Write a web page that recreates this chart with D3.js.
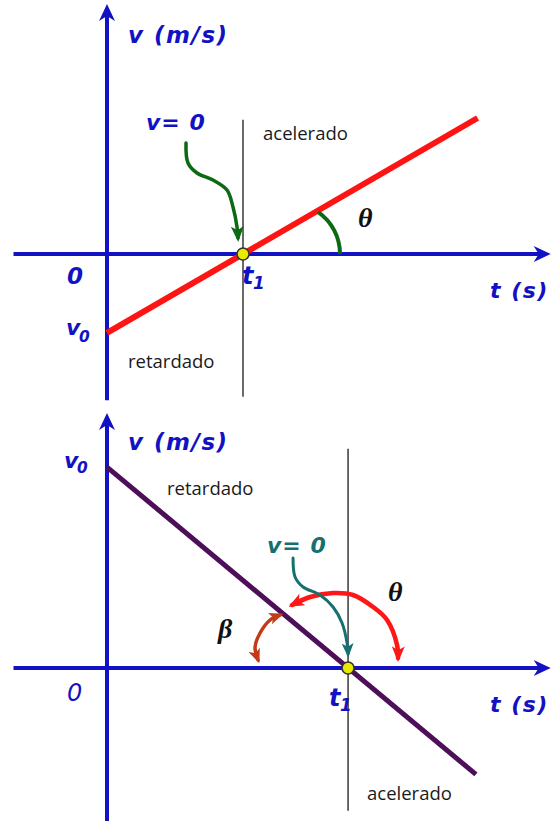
<!DOCTYPE html>
<html>
<head>
<meta charset="utf-8">
<script src="https://cdn.jsdelivr.net/npm/d3@7"></script>
<style>
  body { margin: 0; background: #fff; }
  svg { display: block; }
</style>
</head>
<body>
<div id="chart"></div>
<script>
// axis extents, in chart units (t in s, v in m/s, arbitrary scale)
const tExtent = [-2.75, 13.05];
const vExtentTop = [-4.3, 7.35];
const vExtentBottom = [-4.55, 7.5];

// top panel: v starts negative and rises through zero at t1
const topT = [0, 10.9];
const topV = [-2.32, 4.0];
const topT1 = 4.0;
const topGuideV = [-4.2, 3.95];

// bottom panel: v starts positive and falls through zero at t1
const bottomT = [0, 10.85];
const bottomV = [5.91, -3.13];
const bottomT1 = 7.09;
const bottomGuideV = [-4.2, 6.45];

const width = 556, height = 821;
const blue = '#1212c4';

const svg = d3.select('#chart').append('svg')
    .attr('width', width)
    .attr('height', height);

const defs = svg.append('defs');
function arrowMarker(id, color, size) {
    defs.append('marker')
        .attr('id', id)
        .attr('viewBox', '0 0 12 10')
        .attr('refX', 9)
        .attr('refY', 5)
        .attr('markerWidth', size * 1.2)
        .attr('markerHeight', size)
        .attr('markerUnits', 'userSpaceOnUse')
        .attr('orient', 'auto-start-reverse')
        .append('path')
        .attr('d', 'M0,0 L12,5 L0,10 L3,5 Z')
        .attr('fill', color);
}
arrowMarker('arr-green', '#0b6a12', 13);
arrowMarker('arr-teal', '#157070', 12);
arrowMarker('arr-red', '#ff1616', 13);
arrowMarker('arr-brown', '#c23a16', 12);

const x = d3.scaleLinear().domain([0, 1]).range([107, 141]);

function drawPanel(y, vExtent, lineT, lineV, t1, guideV, lineColor, lineWidth) {
    const g = svg.append('g');
    const ox = x(0), oy = y(0);

    // axes
    g.append('line')
        .attr('x1', x(tExtent[0])).attr('x2', x(tExtent[1]) - 8)
        .attr('y1', oy).attr('y2', oy)
        .attr('stroke', blue).attr('stroke-width', 4);
    g.append('line')
        .attr('x1', ox).attr('x2', ox)
        .attr('y1', y(vExtent[0])).attr('y2', y(vExtent[1]) + 8)
        .attr('stroke', blue).attr('stroke-width', 4);

    // arrow heads on the axes
    const tx = x(tExtent[1]), ty = y(vExtent[1]);
    g.append('path')
        .attr('d', `M${tx},${oy} L${tx - 17},${oy - 8} L${tx - 12},${oy} L${tx - 17},${oy + 8} Z`)
        .attr('fill', blue);
    g.append('path')
        .attr('d', `M${ox},${ty} L${ox - 8},${ty + 17} L${ox},${ty + 12} L${ox + 8},${ty + 17} Z`)
        .attr('fill', blue);

    // thin guide at t1
    g.append('line')
        .attr('x1', x(t1)).attr('x2', x(t1))
        .attr('y1', y(guideV[0])).attr('y2', y(guideV[1]))
        .attr('stroke', '#1a1a1a').attr('stroke-width', 1.3);

    // the velocity line
    const pts = lineT.map((t, i) => [t, lineV[i]]);
    g.append('path')
        .datum(pts)
        .attr('d', d3.line().x(d => x(d[0])).y(d => y(d[1])))
        .attr('fill', 'none')
        .attr('stroke', lineColor)
        .attr('stroke-width', lineWidth);

    return { g, ox, oy, cx: x(t1), cy: oy };
}

function dot(p) {
    p.g.append('circle')
        .attr('cx', p.cx).attr('cy', p.cy).attr('r', 6)
        .attr('fill', '#eaea00')
        .attr('stroke', '#333').attr('stroke-width', 1.6);
}

function curve(p, offsets, color, w, startMarker, endMarker) {
    const path = p.g.append('path')
        .datum(offsets)
        .attr('d', d3.line().curve(d3.curveCatmullRom).x(d => p.cx + d[0]).y(d => p.cy + d[1]))
        .attr('fill', 'none')
        .attr('stroke', color)
        .attr('stroke-width', w)
        .attr('stroke-linecap', 'round');
    if (startMarker) path.attr('marker-start', `url(#${startMarker})`);
    if (endMarker) path.attr('marker-end', `url(#${endMarker})`);
}

function label(p, dx, dy, txt, opts = {}) {
    const t = p.g.append('text')
        .attr('x', p.ox + dx)
        .attr('y', p.oy + dy)
        .attr('fill', opts.color || blue)
        .attr('font-family', opts.family || '"DejaVu Sans", sans-serif')
        .attr('font-size', opts.size || 22)
        .attr('font-weight', opts.weight || 'bold')
        .attr('font-style', opts.style || 'italic');
    if (opts.spacing) t.attr('letter-spacing', opts.spacing);
    t.text(txt);
    return t;
}

function subLabel(p, dx, dy, main, sub, size, subDx, subDy) {
    label(p, dx, dy, main, { size });
    label(p, dx + subDx, dy + subDy, sub, { size: size * 0.7 });
}

const plain = { color: '#1a1a1a', family: '"Open Sans", sans-serif', size: 18.5, weight: 'normal', style: 'normal' };
const greek = { color: '#111', family: '"Liberation Serif", serif', size: 28, weight: 'bold', style: 'italic' };

// ---- top panel ----
const yTop = d3.scaleLinear().domain([0, 1]).range([254, 220]);
const topPanel = drawPanel(yTop, vExtentTop, topT, topV, topT1, topGuideV, '#ff1414', 6);

// theta arc between red line and t axis
topPanel.g.append('path')
    .attr('d', d3.arc()({ innerRadius: 51, outerRadius: 51, startAngle: 0.61, endAngle: Math.PI / 2 }))
    .attr('transform', `translate(${topPanel.cx + 46},${topPanel.cy})`)
    .attr('fill', 'none')
    .attr('stroke', '#0b6a12')
    .attr('stroke-width', 4);

curve(topPanel, [[-57, -111], [-55, -91], [-46, -81], [-30, -74], [-16, -64], [-10, -47], [-6, -27], [-5, -16]],
    '#0b6a12', 3.5, null, 'arr-green');
dot(topPanel);

label(topPanel, 21, -211, 'v (m/s)', { size: 23, spacing: 1.5 });
label(topPanel, 39, -124, 'v= 0', { size: 22, spacing: 1 });
label(topPanel, 156, -114, 'acelerado', plain);
label(topPanel, 251, -27, 'θ', greek);
label(topPanel, -40, 30, '0', { size: 23 });
subLabel(topPanel, -41, 81, 'v', '0', 22, 13, 7);
subLabel(topPanel, 135, 30, 't', '1', 24, 11, 5);
label(topPanel, 383, 44, 't (s)', { size: 22, spacing: 1.5 });
label(topPanel, 21, 114, 'retardado', plain);

// ---- bottom panel ----
const yBottom = d3.scaleLinear().domain([0, 1]).range([668, 634]);
const bottomPanel = drawPanel(yBottom, vExtentBottom, bottomT, bottomV, bottomT1, bottomGuideV, '#4d0f58', 5);

curve(bottomPanel, [[50, -10], [49, -23], [39, -48], [25, -61], [5, -73], [-15, -75], [-38, -71], [-56, -63]],
    '#ff1616', 4.5, 'arr-red', 'arr-red');
curve(bottomPanel, [[-68, -53], [-78, -48], [-88, -35], [-93, -21], [-90, -8]],
    '#c23a16', 3.5, 'arr-brown', 'arr-brown');
curve(bottomPanel, [[-55, -110], [-53, -91], [-45, -81], [-28, -73], [-15, -61], [-6, -45], [-1, -25], [0, -14]],
    '#157070', 3, null, 'arr-teal');
dot(bottomPanel);

label(bottomPanel, 21, -218, 'v (m/s)', { size: 23, spacing: 1.5 });
subLabel(bottomPanel, -43, -200, 'v', '0', 22, 13, 5);
label(bottomPanel, 60, -173, 'retardado', plain);
label(bottomPanel, 160, -115, 'v= 0', { size: 22, spacing: 1, color: '#157070' });
label(bottomPanel, 281, -67, 'θ', greek);
label(bottomPanel, 111, -30, 'β', greek);
label(bottomPanel, -40, 33, '0', { size: 24, weight: 'normal' });
subLabel(bottomPanel, 222, 38, 't', '1', 24, 11, 5);
label(bottomPanel, 383, 44, 't (s)', { size: 22, spacing: 1.5 });
label(bottomPanel, 260, 132, 'acelerado', plain);
</script>
</body>
</html>
